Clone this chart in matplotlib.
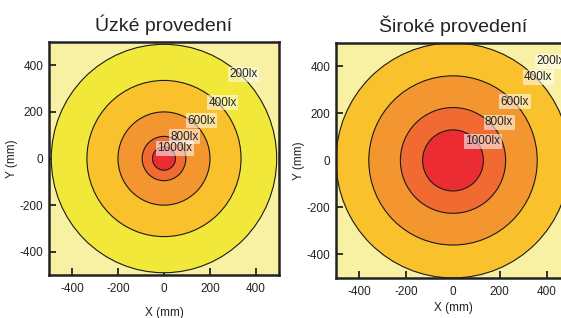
import matplotlib.pyplot as plt
from matplotlib.patches import Circle

plt.rcParams['font.family'] = ['Liberation Sans', 'DejaVu Sans']
plt.rcParams['axes.unicode_minus'] = False

# illuminance levels and the radius (mm) of each contour
narrow_levels = [200, 400, 600, 800, 1000]
narrow_radii = [490, 335, 200, 95, 50]
wide_levels = [400, 600, 800, 1000]
wide_radii = [500, 360, 225, 130]
label_levels = [200, 400, 600, 800, 1000]

titles = ['Úzké provedení', 'Široké provedení']
ticks = [-400, -200, 0, 200, 400]

band_colors = {200: '#f2e83a', 400: '#f9c22c', 600: '#f4962f', 800: '#f06a31', 1000: '#eb2d33'}
bg_color = '#f8f1a3'

# label anchor points (data coords) for each panel
narrow_label_xy = [(345, 362), (254, 239), (163, 162), (90, 94), (47, 43)]
wide_label_xy = [(419, 421), (364, 353), (265, 249), (197, 163), (128, 82)]

fig = plt.figure(figsize=(5.61, 3.18), dpi=100)
ax1 = fig.add_axes([0.0873, 0.135, 0.41, 0.733])
ax2 = fig.add_axes([0.599, 0.126, 0.417, 0.739])


def draw_panel(ax, levels, radii, label_xy, title, xpad):
    ax.set_facecolor(bg_color)
    for lev, r in zip(levels, radii):
        ax.add_patch(Circle((0, 0), r, facecolor=band_colors[lev],
                            edgecolor='#1a1a1a', linewidth=0.8, zorder=2))
    for lev, (x, y) in zip(label_levels, label_xy):
        ax.text(x, y, f'{lev}lx', fontsize=8.5, ha='center', va='center', zorder=5,
                color='#222222',
                bbox=dict(boxstyle='square,pad=0.12', facecolor='white',
                          edgecolor='none', alpha=0.55))
    ax.set_xlim(-500, 500)
    ax.set_ylim(-500, 500)
    ax.set_xticks(ticks)
    ax.set_yticks(ticks)
    ax.tick_params(direction='in', length=5, width=1.3, labelsize=8.5, pad=6,
                   color='#222222', labelcolor='#222222')
    ax.tick_params(axis='y', pad=4)
    for s in ax.spines.values():
        s.set_linewidth(1.8)
        s.set_color('#222222')
        s.set_zorder(6)
    ax.set_xlabel('X (mm)', fontsize=8.5, color='#222222', labelpad=xpad)
    ax.set_ylabel('Y (mm)', fontsize=8.5, color='#222222', labelpad=1)
    ax.set_title(title, fontsize=14, pad=8, color='#222222')


draw_panel(ax1, narrow_levels, narrow_radii, narrow_label_xy, titles[0], 8)
draw_panel(ax2, wide_levels, wide_radii, wide_label_xy, titles[1], 3)

fig.savefig('out.png', dpi=100)
